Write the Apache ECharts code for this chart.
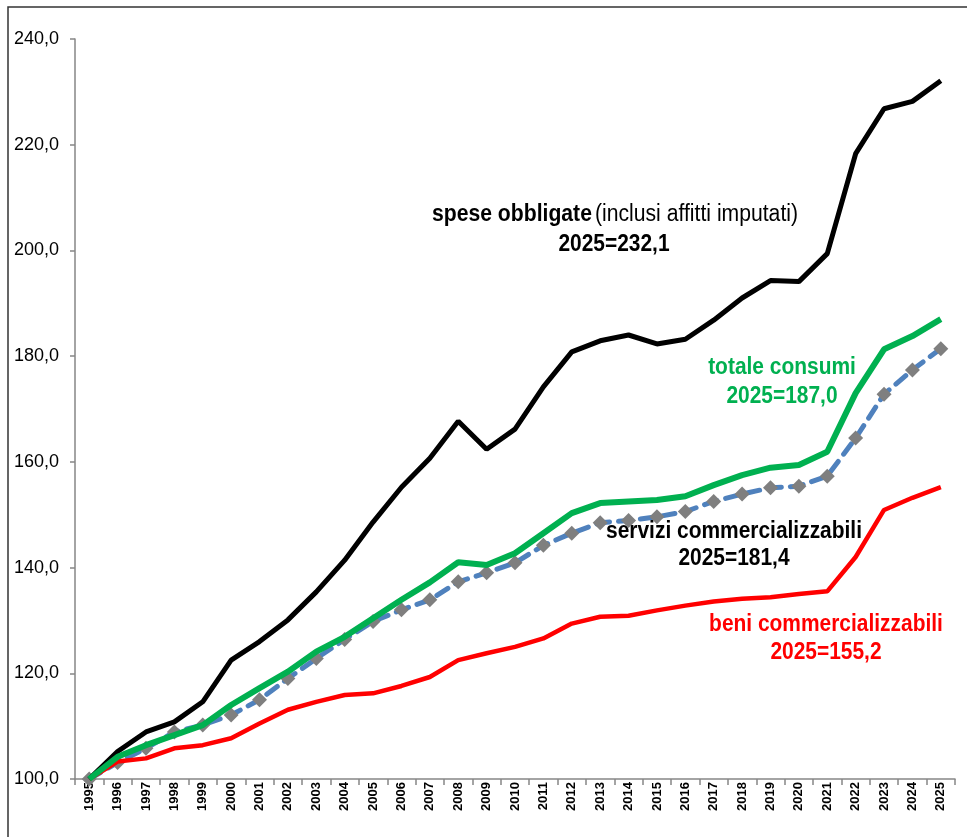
<!DOCTYPE html>
<html>
<head>
<meta charset="utf-8">
<script src="https://cdn.jsdelivr.net/npm/echarts@6/dist/echarts.min.js"></script>
<style>
html,body{margin:0;padding:0;background:#fff;}
#c{width:967px;height:837px;}
</style>
</head>
<body>
<div id="c"></div>
<script>
var years = ['1995','1996','1997','1998','1999','2000','2001','2002','2003','2004','2005','2006','2007','2008','2009','2010','2011','2012','2013','2014','2015','2016','2017','2018','2019','2020','2021','2022','2023','2024','2025'];
var speseObbligate = [100, 105.2, 108.9, 110.8, 114.6, 122.5, 126.0, 130.1, 135.4, 141.4, 148.6, 155.2, 160.7, 167.7, 162.4, 166.2, 174.2, 180.8, 182.9, 184.0, 182.3, 183.2, 186.8, 191.0, 194.3, 194.1, 199.4, 218.3, 226.8, 228.2, 232.1];
var totaleConsumi = [100, 104.2, 106.4, 108.3, 110.2, 114.0, 117.2, 120.3, 124.1, 126.9, 130.4, 133.9, 137.2, 141.0, 140.5, 142.7, 146.5, 150.3, 152.2, 152.5, 152.8, 153.5, 155.6, 157.5, 158.9, 159.4, 161.9, 173.0, 181.3, 183.8, 187.0];
var serviziComm = [100, 103.1, 105.8, 108.9, 110.2, 112.1, 115.0, 119.0, 122.8, 126.4, 129.8, 132.0, 133.9, 137.3, 139.0, 140.9, 144.2, 146.5, 148.5, 148.9, 149.6, 150.6, 152.5, 153.9, 155.1, 155.4, 157.3, 164.5, 172.8, 177.4, 181.4];
var beniComm = [100, 103.3, 103.9, 105.8, 106.4, 107.7, 110.5, 113.1, 114.6, 115.9, 116.2, 117.6, 119.3, 122.5, 123.8, 125.0, 126.6, 129.4, 130.7, 130.9, 131.9, 132.8, 133.6, 134.1, 134.4, 135.0, 135.5, 142.0, 150.9, 153.2, 155.2];
var yMin = 100, yMax = 240, yStep = 20;

var chart = echarts.init(document.getElementById('c'), null, {renderer:'canvas'});
var fam = '"Liberation Sans", Arial, sans-serif';
var axisGray = '#868686';
var fs = 23, sx = 0.91;
function lbl(x, y, text, color) {
  return {type: 'text', x: x, y: y, scaleX: sx, style: {text: text, textAlign: 'center', textVerticalAlign: 'middle', font: 'bold ' + fs + 'px ' + fam, fill: color}};
}
chart.setOption({
  animation: false,
  backgroundColor: '#ffffff',
  grid: {left: 75, right: 12, top: 39, bottom: 58, containLabel: false},
  xAxis: {
    type: 'category',
    data: years,
    boundaryGap: true,
    axisLine: {lineStyle: {color: axisGray, width: 1.5}},
    axisTick: {show: true, alignWithLabel: false, length: 6, lineStyle: {color: axisGray, width: 1.5}},
    axisLabel: {rotate: 90, interval: 0, margin: 3, color: '#000', fontWeight: 'bold', fontSize: 13, fontFamily: fam},
    splitLine: {show: false}
  },
  yAxis: {
    type: 'value',
    min: yMin, max: yMax, interval: yStep,
    axisLine: {show: true, lineStyle: {color: axisGray, width: 1.5}},
    axisTick: {show: true, length: 5, lineStyle: {color: axisGray, width: 1.5}},
    splitLine: {show: false},
    axisLabel: {
      margin: 16, color: '#000', fontSize: 18, fontFamily: fam,
      formatter: function(v){ return v.toFixed(1).replace('.', ','); }
    }
  },
  series: [
    {name: 'servizi commercializzabili', type: 'line', data: serviziComm, symbol: 'diamond', symbolSize: 15, showSymbol: true,
     itemStyle: {color: '#7f7f7f'}, lineStyle: {color: '#4f81bd', width: 5, type: [13, 9], cap: 'round'}, z: 2},
    {name: 'beni commercializzabili', type: 'line', data: beniComm, symbol: 'none', lineStyle: {color: '#ff0000', width: 4.5}, z: 3},
    {name: 'spese obbligate', type: 'line', data: speseObbligate, symbol: 'none', lineStyle: {color: '#000000', width: 5}, z: 4},
    {name: 'totale consumi', type: 'line', data: totaleConsumi, symbol: 'none', lineStyle: {color: '#00b050', width: 6}, z: 5}
  ],
  graphic: [
    {type: 'rect', shape: {x: 8, y: 7, width: 1100, height: 1000}, style: {fill: 'none', stroke: '#333', lineWidth: 1.5}, silent: true},
    {type: 'text', x: 615, y: 215, scaleX: 0.92, style: {
      text: '{b|spese obbligate} {n|(inclusi affitti imputati)}',
      textAlign: 'center', textVerticalAlign: 'middle',
      rich: {
        b: {fontFamily: fam, fontWeight: 'bold', fontSize: fs, fill: '#000'},
        n: {fontFamily: fam, fontWeight: 'normal', fontSize: fs, fill: '#000'}
      }}},
    lbl(614, 245, '2025=232,1', '#000'),
    lbl(782, 368, 'totale consumi', '#00b050'),
    lbl(782, 397, '2025=187,0', '#00b050'),
    lbl(734, 532, 'servizi commercializzabili', '#000'),
    lbl(734, 559, '2025=181,4', '#000'),
    lbl(826, 625, 'beni commercializzabili', '#ff0000'),
    lbl(826, 653, '2025=155,2', '#ff0000')
  ]
});
</script>
</body>
</html>
